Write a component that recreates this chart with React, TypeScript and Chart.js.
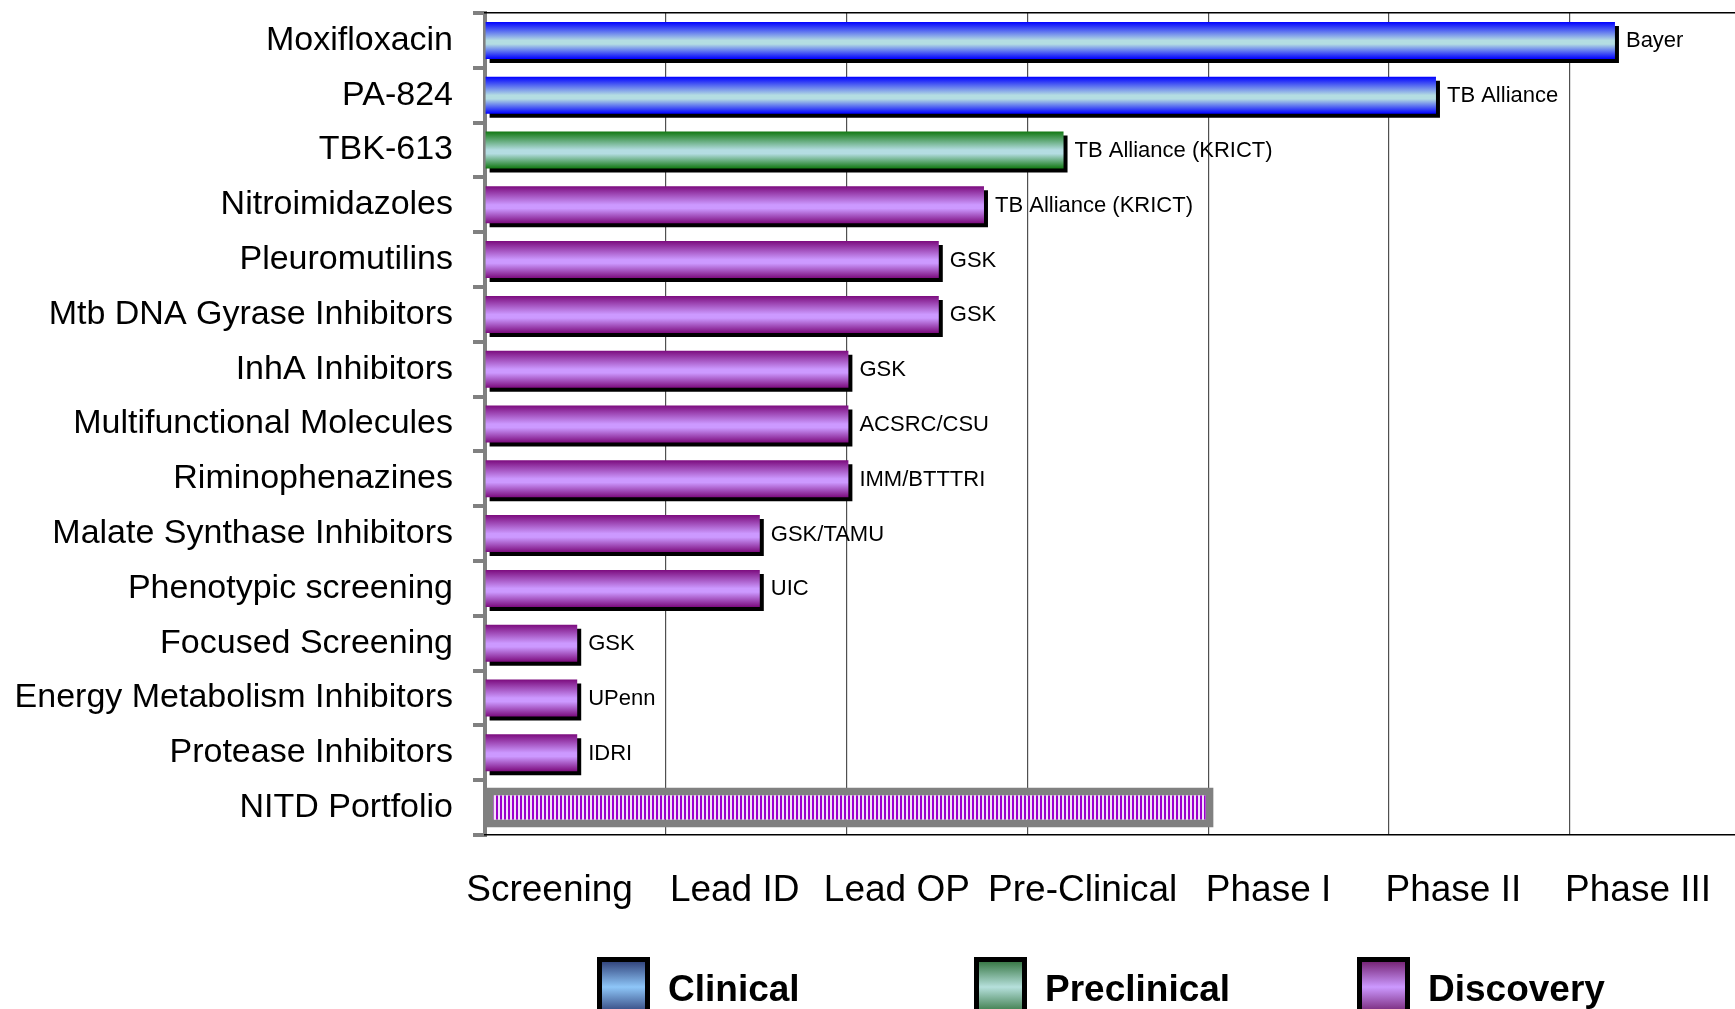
import React, { useEffect, useRef } from 'react';
import { Chart, registerables } from 'chart.js';

Chart.register(...registerables);

const categories = [
  'Moxifloxacin',
  'PA-824',
  'TBK-613',
  'Nitroimidazoles',
  'Pleuromutilins',
  'Mtb DNA Gyrase Inhibitors',
  'InhA Inhibitors',
  'Multifunctional Molecules',
  'Riminophenazines',
  'Malate Synthase Inhibitors',
  'Phenotypic screening',
  'Focused Screening',
  'Energy Metabolism Inhibitors',
  'Protease Inhibitors',
  'NITD Portfolio',
];

const stageValues = [6.25, 5.26, 3.2, 2.76, 2.51, 2.51, 2.01, 2.01, 2.01, 1.52, 1.52, 0.51, 0.51, 0.51, null];
const portfolioValues = [null, null, null, null, null, null, null, null, null, null, null, null, null, null, 4.03];
const groups = [
  'clinical', 'clinical', 'preclinical', 'discovery', 'discovery', 'discovery', 'discovery',
  'discovery', 'discovery', 'discovery', 'discovery', 'discovery', 'discovery', 'discovery', null,
];
const sponsors = [
  'Bayer', 'TB Alliance', 'TB Alliance (KRICT)', 'TB Alliance (KRICT)', 'GSK', 'GSK', 'GSK',
  'ACSRC/CSU', 'IMM/BTTTRI', 'GSK/TAMU', 'UIC', 'GSK', 'UPenn', 'IDRI', '',
];
const stageLabels = ['Screening', 'Lead ID', 'Lead OP', 'Pre-Clinical', 'Phase I', 'Phase II', 'Phase III'];
const stageLabelPositions = [0.357, 1.381, 2.278, 3.306, 4.334, 5.356, 6.378];
const stageGridValues = [0, 1, 2, 3, 4, 5, 6];
const axisMax = 6.914;
const legendLabels = ['Clinical', 'Preclinical', 'Discovery'];
const legendGroups = ['clinical', 'preclinical', 'discovery'];

const FONT = '"Liberation Sans", Arial, sans-serif';
const BAR_PCT = 0.675;

const barPalettes: Record<string, [string, string]> = {
  clinical: ['#0000ff', '#b4dde2'],
  preclinical: ['#127812', '#b4dde2'],
  discovery: ['#7c0c7e', '#cc99ff'],
};
const legendPalettes: Record<string, [string, string]> = {
  clinical: ['#34477f', '#8ec6f8'],
  preclinical: ['#3b7a48', '#b6e0dc'],
  discovery: ['#772677', '#cc99ff'],
};

function barFill(context: any) {
  const chart = context.chart;
  const i = context.dataIndex;
  const g = i === undefined ? null : groups[i];
  const yScale = chart.scales && chart.scales.y;
  if (!g || !yScale) return '#999999';
  const [dark, light] = barPalettes[g];
  const c = yScale.getPixelForValue(i);
  const h = ((yScale.bottom - yScale.top) / categories.length) * BAR_PCT;
  if (!isFinite(c) || !isFinite(h) || h <= 0) return light;
  const grad = chart.ctx.createLinearGradient(0, c - h / 2, 0, c + h / 2);
  grad.addColorStop(0, dark);
  grad.addColorStop(0.5, light);
  grad.addColorStop(0.6, light);
  grad.addColorStop(1, dark);
  return grad;
}

function makeStripePattern(ctx: CanvasRenderingContext2D) {
  const c = document.createElement('canvas');
  c.width = 4;
  c.height = 4;
  const p = c.getContext('2d')!;
  p.fillStyle = '#f4e2fa';
  p.fillRect(0, 0, 4, 4);
  p.fillStyle = '#9a00cc';
  p.fillRect(0, 0, 2, 4);
  return ctx.createPattern(c, 'repeat')!;
}

function zeroPadding(scale: any) {
  scale.paddingTop = 0;
  scale.paddingBottom = 0;
  scale.paddingLeft = 0;
  scale.paddingRight = 0;
}

const shadowPlugin = {
  id: 'barShadow',
  beforeDatasetDraw(chart: any, args: any) {
    if (args.index !== 0) return;
    const ctx = chart.ctx;
    const r = chart.currentDevicePixelRatio || 1;
    ctx.save();
    ctx.shadowColor = '#000000';
    ctx.shadowOffsetX = 4 * r;
    ctx.shadowOffsetY = 4 * r;
    ctx.shadowBlur = 0;
  },
  afterDatasetDraw(chart: any, args: any) {
    if (args.index !== 0) return;
    chart.ctx.restore();
  },
};

const sponsorPlugin = {
  id: 'sponsorLabels',
  afterDatasetsDraw(chart: any) {
    const ctx = chart.ctx;
    const meta = chart.getDatasetMeta(0);
    ctx.save();
    ctx.font = `22px ${FONT}`;
    ctx.fillStyle = '#000000';
    ctx.textAlign = 'left';
    ctx.textBaseline = 'middle';
    meta.data.forEach((el: any, i: number) => {
      if (!sponsors[i] || stageValues[i] == null) return;
      ctx.fillText(sponsors[i], el.x + 11, el.y + 1);
    });
    ctx.restore();
  },
};

const legendPlugin = {
  id: 'stageLegend',
  afterDraw(chart: any) {
    const ctx = chart.ctx;
    const boxX = [597, 974, 1357];
    const top = 957;
    const boxW = 53;
    const boxH = 60;
    ctx.save();
    legendLabels.forEach((label, i) => {
      const x = boxX[i];
      ctx.fillStyle = '#000000';
      ctx.fillRect(x, top, boxW, boxH);
      const [dark, light] = legendPalettes[legendGroups[i]];
      const g = ctx.createLinearGradient(0, top + 5, 0, top + boxH - 5);
      g.addColorStop(0, dark);
      g.addColorStop(0.5, light);
      g.addColorStop(1, dark);
      ctx.fillStyle = g;
      ctx.fillRect(x + 5, top + 5, boxW - 10, boxH - 10);
      ctx.fillStyle = '#000000';
      ctx.font = `bold 37px ${FONT}`;
      ctx.textAlign = 'left';
      ctx.textBaseline = 'alphabetic';
      ctx.fillText(label, x + 71, 1001);
    });
    ctx.restore();
  },
};

export default function App() {
  const ref = useRef<HTMLCanvasElement>(null);

  useEffect(() => {
    const canvas = ref.current!;
    const pattern = makeStripePattern(canvas.getContext('2d')!);
    const chart = new Chart(canvas, {
      type: 'bar',
      data: {
        labels: categories,
        datasets: [
          {
            label: 'Stage',
            data: stageValues as any,
            backgroundColor: barFill as any,
            borderWidth: 0,
            barPercentage: BAR_PCT,
            categoryPercentage: 1,
            grouped: false,
            xAxisID: 'x',
          } as any,
          {
            label: 'NITD Portfolio',
            data: portfolioValues as any,
            backgroundColor: pattern as any,
            borderColor: '#808080',
            borderWidth: 8,
            borderSkipped: false,
            barPercentage: 0.73,
            categoryPercentage: 1,
            grouped: false,
            xAxisID: 'x',
          } as any,
        ],
      },
      options: {
        indexAxis: 'y',
        responsive: false,
        animation: false,
        maintainAspectRatio: false,
        layout: { padding: { top: 13, left: 0, right: 0, bottom: 0 } },
        plugins: {
          legend: { display: false },
          tooltip: { enabled: false },
          title: { display: false },
        },
        scales: {
          y: {
            type: 'category',
            position: 'left',
            offset: true,
            grid: {
              offset: true,
              drawOnChartArea: false,
              drawTicks: true,
              tickLength: 12,
              color: '#808080',
              lineWidth: 4,
            },
            border: { display: true, color: '#808080', width: 4 },
            ticks: {
              color: '#000000',
              font: { family: FONT, size: 34 },
              padding: 20,
              autoSkip: false,
            },
            afterFit: (scale: any) => {
              scale.width = 485;
              zeroPadding(scale);
            },
          },
          x: {
            type: 'linear',
            position: 'bottom',
            min: 0,
            max: axisMax,
            weight: 0,
            afterBuildTicks: (axis: any) => {
              axis.ticks = stageGridValues.map((v) => ({ value: v }));
            },
            ticks: { display: false },
            grid: { color: '#505050', lineWidth: 1.2, drawTicks: false },
            border: { display: true, color: '#000000', width: 1.5 },
            afterFit: (scale: any) => {
              scale.height = 0;
              zeroPadding(scale);
            },
          },
          xl: {
            type: 'linear',
            position: 'bottom',
            min: 0,
            max: axisMax,
            weight: 1,
            afterBuildTicks: (axis: any) => {
              axis.ticks = stageLabelPositions.map((v) => ({ value: v }));
            },
            ticks: {
              color: '#000000',
              font: { family: FONT, size: 37 },
              padding: 34,
              autoSkip: false,
              maxRotation: 0,
              minRotation: 0,
              callback: (_v: any, index: number) => stageLabels[index],
            },
            grid: { display: false, drawTicks: false },
            border: { display: false },
            afterFit: (scale: any) => {
              scale.height = 174;
              zeroPadding(scale);
            },
          },
          xt: {
            type: 'linear',
            position: 'top',
            min: 0,
            max: axisMax,
            ticks: { display: false },
            grid: { display: false, drawTicks: false },
            border: { display: true, color: '#000000', width: 1.5 },
            afterFit: (scale: any) => {
              scale.height = 0;
              zeroPadding(scale);
            },
          },
        },
      } as any,
      plugins: [shadowPlugin, sponsorPlugin, legendPlugin],
    });
    return () => chart.destroy();
  }, []);

  return (
    <div style={{ position: 'fixed', left: 0, top: 0, width: 1735, height: 1009, background: '#ffffff', overflow: 'hidden' }}>
      <canvas ref={ref} width={1735} height={1009} style={{ display: 'block', width: 1735, height: 1009 }} />
    </div>
  );
}
